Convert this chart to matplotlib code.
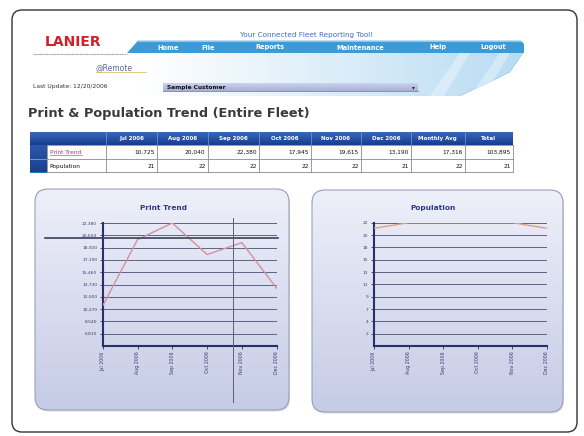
import numpy as np
import matplotlib
matplotlib.use('Agg')
import matplotlib.pyplot as plt
from matplotlib.patches import FancyBboxPatch, Rectangle, Polygon
from matplotlib.colors import LinearSegmentedColormap

W, H = 584, 436

months = ['Jul 2006', 'Aug 2006', 'Sep 2006', 'Oct 2006', 'Nov 2006', 'Dec 2006']
print_trend = [10725, 20040, 22380, 17945, 19615, 13190]
population = [21, 22, 22, 22, 22, 21]

print_ticks = [6810, 8540, 10270, 12000, 13730, 15460, 17190, 18920, 20650, 22380]
print_tick_labels = ['6,810', '8,540', '10,270', '12,000', '13,730',
                     '15,460', '17,190', '18,920', '20,650', '22,380']
print_ylim = (5080, 22380)
pop_ticks = [2.2, 4.4, 6.6, 8.8, 11, 13.2, 15.4, 17.6, 19.8, 22]
pop_tick_labels = ['2', '4', '7', '9', '11', '13', '15', '18', '20', '22']
pop_ylim = (0, 22)

menu_items = ['Home', 'File', 'Reports', 'Maintenance', 'Help', 'Logout']
menu_x = [168, 208, 270, 360, 438, 493]
table_cols = months + ['Monthly Avg', 'Total']
col_edges = [46.7, 106, 156.7, 207.7, 259, 310.7, 361, 410.7, 465, 512.7]
row_edges = [131.7, 145, 159.5, 172.5]

fig = plt.figure(figsize=(W / 100, H / 100), dpi=100)
bg = fig.add_axes([0, 0, 1, 1])
bg.axis('off')


def px_axes(x0, y0, x1, y1):
    return fig.add_axes([x0 / W, 1 - y1 / H, (x1 - x0) / W, (y1 - y0) / H])


def gradient(ax, patch, c1, c2, horizontal=False):
    ax.add_patch(patch)
    bb = patch.get_path().get_extents(patch.get_patch_transform())
    x0, y0, x1, y1 = bb.x0, bb.y0, bb.x1, bb.y1
    g = np.linspace(0, 1, 256)
    g = g.reshape(1, -1) if horizontal else g.reshape(-1, 1)
    cmap = LinearSegmentedColormap.from_list('g', [c1, c2])
    im = ax.imshow(g, cmap=cmap, extent=(x0, x1, y1, y0), origin='upper',
                   aspect='auto', zorder=patch.get_zorder(), interpolation='bilinear')
    im.set_clip_path(patch)
    return im


# outer frame
bg.add_patch(FancyBboxPatch((12, 10), 565, 422, boxstyle='round,pad=0,rounding_size=10',
                            fc='white', ec='#333333', lw=1, zorder=0))

# header
bg.text(45, 42, 'LANIER', fontsize=10, fontweight='bold', color='#d0202a', va='center')
bg.plot([33, 127], [54.5, 54.5], color='#9a9a9a', lw=0.8, ls=(0, (1, 0.5)))
light = Polygon([(140, 53), (523, 53), (510, 72), (490, 82), (460, 96), (140, 96)],
                closed=True, ec='none', zorder=1)
gradient(bg, light, '#ffffff', '#b9dcf3', horizontal=True)
for sx in (430, 470):
    bg.add_patch(Polygon([(sx, 96), (sx + 14, 96), (sx + 40, 53), (sx + 30, 53)],
                         closed=True, fc='white', alpha=0.35, ec='none', zorder=2))
bar = Polygon([(127, 53), (138, 40.7), (521, 40.7), (524, 44), (524, 53)],
              closed=True, fc='#3c9ad6', ec='none', zorder=3)
bg.add_patch(bar)
bg.plot([138, 521], [41.2, 41.2], color='#8cc6ec', lw=0.8, zorder=4)
for name, x in zip(menu_items, menu_x):
    bg.text(x, 47.5, name, fontsize=4.8, fontweight='bold', color='white',
            ha='center', va='center', zorder=5)
bg.text(240, 34.5, 'Your Connected Fleet Reporting Tool!', fontsize=5.2,
        color='#3a6fc0', va='center', zorder=5)
bg.text(96, 68, '@Remote', fontsize=5.5, color='#5a6aa0', va='center', zorder=5)
bg.plot([96, 146], [72.5, 72.5], color='#d9c46a', lw=0.6, zorder=5)
bg.text(33, 86.5, 'Last Update: 12/20/2006', fontsize=4.3, color='#333333', va='center')
dd = Rectangle((163, 83), 255, 8, ec='none', zorder=4)
gradient(bg, dd, '#cdd3ec', '#a6afd6')
bg.plot([163, 418], [91, 91], color='#7a83aa', lw=0.6, zorder=5)
bg.text(167, 87, 'Sample Customer', fontsize=4.2, fontweight='bold', color='#111111',
        va='center', zorder=5)
bg.text(413, 87.2, '\u25be', fontsize=4, color='#222244', ha='center', va='center', zorder=5)

bg.text(28, 113, 'Print & Population Trend (Entire Fleet)', fontsize=9.3,
        fontweight='bold', color='#3a3a3a', va='center')

# table
hdr = Rectangle((30, row_edges[0]), col_edges[-1] - 30, row_edges[1] - row_edges[0],
                ec='none', zorder=2)
gradient(bg, hdr, '#3a6cc0', '#173d8c')
strip = Rectangle((30, row_edges[1]), col_edges[0] - 30, row_edges[-1] - row_edges[1],
                  ec='none', zorder=2)
gradient(bg, strip, '#2c59ad', '#1a408e')
bg.plot([30, col_edges[0]], [row_edges[2], row_edges[2]], color='#8aa0d8', lw=0.6, zorder=3)
for x in col_edges[1:-1]:
    bg.plot([x, x], [row_edges[0], row_edges[1]], color='#7f9bd6', lw=0.5, zorder=3)
for x in col_edges:
    bg.plot([x, x], [row_edges[1], row_edges[-1]], color='#8a8a8a', lw=0.6, zorder=3)
for y in row_edges[1:]:
    bg.plot([col_edges[0], col_edges[-1]], [y, y], color='#8a8a8a', lw=0.6, zorder=3)
for i, name in enumerate(table_cols):
    cx = (col_edges[i + 1] + col_edges[i + 2]) / 2
    bg.text(cx, (row_edges[0] + row_edges[1]) / 2, name, fontsize=4, color='white',
            fontweight='bold', ha='center', va='center', zorder=4)

print_row = [f'{v:,}' for v in print_trend]
print_row += [f'{round(np.mean(print_trend)):,}', f'{sum(print_trend):,}']
pop_row = [str(v) for v in population]
pop_row += [str(round(np.mean(population))), str(population[-1])]
for r, (label, vals, col) in enumerate([('Print Trend', print_row, '#c0306a'),
                                        ('Population', pop_row, '#111111')]):
    cy = (row_edges[r + 1] + row_edges[r + 2]) / 2
    bg.text(col_edges[0] + 3, cy, label, fontsize=4.2, color=col, va='center', zorder=4)
    if r == 0:
        bg.plot([col_edges[0] + 3, col_edges[0] + 35], [cy + 3, cy + 3], color=col,
                lw=0.4, zorder=4)
    for i, v in enumerate(vals):
        bg.text(col_edges[i + 2] - 2, cy, v, fontsize=4.2, color='#111111',
                ha='right', va='center', zorder=4)

# chart panels
for (x0, y0, x1, y1) in [(35, 189, 289, 410), (312, 190, 563, 412)]:
    shadow = FancyBboxPatch((x0 + 1, y0 + 1.5), x1 - x0, y1 - y0,
                            boxstyle='round,pad=0,rounding_size=13',
                            fc='#d8dbe6', ec='none', zorder=1)
    bg.add_patch(shadow)
    panel = FancyBboxPatch((x0, y0), x1 - x0, y1 - y0,
                           boxstyle='round,pad=0,rounding_size=13', ec='none', zorder=2)
    gradient(bg, panel, '#eef0f9', '#c6cbe6')
    bg.add_patch(FancyBboxPatch((x0, y0), x1 - x0, y1 - y0,
                                boxstyle='round,pad=0,rounding_size=13',
                                fc='none', ec='#9ba1bc', lw=0.8, zorder=3))

bg.text(163, 208, 'Print Trend', fontsize=5.3, fontweight='bold', color='#2c3a86',
        ha='center', va='center', zorder=4)
bg.text(433, 208, 'Population', fontsize=5.3, fontweight='bold', color='#2c3a86',
        ha='center', va='center', zorder=4)

bg.set_xlim(0, W)
bg.set_ylim(H, 0)


def draw_chart(rect, values, ticks, tick_labels, ylim, color):
    ax = px_axes(*rect)
    ax.set_facecolor('none')
    ax.plot(range(len(values)), values, color=color, lw=1, zorder=3)
    ax.set_xlim(0, len(values) - 1)
    ax.set_ylim(*ylim)
    ax.set_yticks(ticks)
    ax.set_yticklabels(tick_labels, fontsize=3.2, color='#3a4070')
    ax.set_xticks(range(len(values)))
    ax.set_xticklabels(months, rotation=90, fontsize=3.4, color='#3a4070')
    ax.grid(axis='y', color='#5d6384', lw=0.7)
    for s in ('top', 'right'):
        ax.spines[s].set_visible(False)
    for s in ('left', 'bottom'):
        ax.spines[s].set_color('#27306a')
        ax.spines[s].set_linewidth(1.5)
    ax.tick_params(length=2.5, width=0.6, color='#27306a', pad=1.5)
    return ax


ax1 = draw_chart((102.7, 223, 276.7, 346), print_trend, print_ticks, print_tick_labels,
                 print_ylim, '#d4909e')
ax2 = draw_chart((374, 222.7, 547, 346), population, pop_ticks, pop_tick_labels,
                 pop_ylim, '#e0a088')

# cursor crosshair over the Print Trend panel
cross = fig.add_axes([0, 0, 1, 1])
cross.axis('off')
cross.set_xlim(0, W)
cross.set_ylim(H, 0)
cross.plot([45, 278], [237.7, 237.7], color='#3a3f5a', lw=1.2)
cross.plot([233, 233], [218, 402], color='#5a5f78', lw=0.7)

fig.savefig('out.png', dpi=100)
